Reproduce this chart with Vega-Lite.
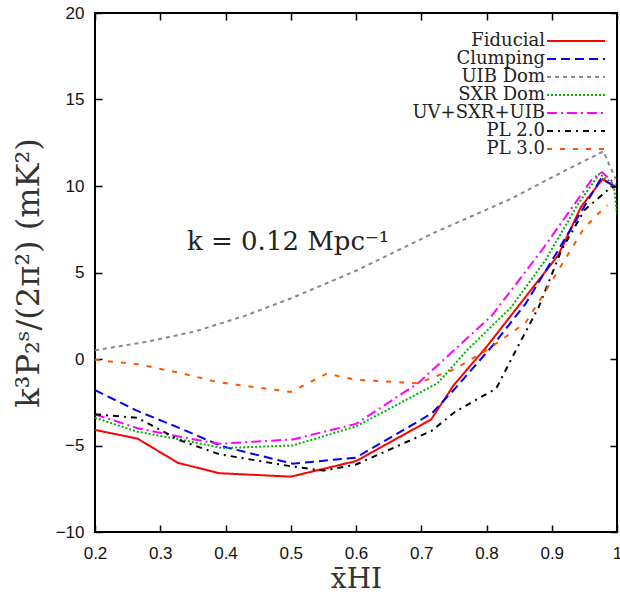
{
  "$schema": "https://vega.github.io/schema/vega-lite/v6.json",
  "autosize": {"type": "none"},
  "padding": {"left": 95, "top": 13, "right": 3, "bottom": 67},
  "width": 522,
  "height": 519,
  "background": "white",
  "config": {
    "view": {"stroke": "black", "strokeWidth": 2},
    "axis": {"domain": false, "grid": false, "tickColor": "black", "tickWidth": 1.5, "tickSize": -7, "labelFont": "Liberation Sans", "labelFontSize": 17, "labelColor": "#111", "titleColor": "#333", "titleFont": "DejaVu Serif", "titleFontWeight": "normal"}
  },
  "datasets": {
    "curves": [
      {"model": "Fiducial", "x": 0.2, "y": -4.1},
      {"model": "Fiducial", "x": 0.265, "y": -4.6},
      {"model": "Fiducial", "x": 0.327, "y": -6.0},
      {"model": "Fiducial", "x": 0.39, "y": -6.6},
      {"model": "Fiducial", "x": 0.5, "y": -6.8},
      {"model": "Fiducial", "x": 0.6, "y": -5.9},
      {"model": "Fiducial", "x": 0.715, "y": -3.5},
      {"model": "Fiducial", "x": 0.75, "y": -1.5},
      {"model": "Fiducial", "x": 0.8, "y": 0.7},
      {"model": "Fiducial", "x": 0.86, "y": 3.6},
      {"model": "Fiducial", "x": 0.91, "y": 6.0},
      {"model": "Fiducial", "x": 0.945, "y": 8.8},
      {"model": "Fiducial", "x": 0.978, "y": 10.4},
      {"model": "Fiducial", "x": 0.998, "y": 9.9},
      {"model": "Clumping", "x": 0.2, "y": -1.8},
      {"model": "Clumping", "x": 0.265, "y": -3.0},
      {"model": "Clumping", "x": 0.33, "y": -4.0},
      {"model": "Clumping", "x": 0.395, "y": -5.05},
      {"model": "Clumping", "x": 0.503, "y": -6.05},
      {"model": "Clumping", "x": 0.6, "y": -5.7},
      {"model": "Clumping", "x": 0.716, "y": -3.15},
      {"model": "Clumping", "x": 0.752, "y": -1.7},
      {"model": "Clumping", "x": 0.81, "y": 0.8},
      {"model": "Clumping", "x": 0.86, "y": 3.2},
      {"model": "Clumping", "x": 0.91, "y": 6.3},
      {"model": "Clumping", "x": 0.975, "y": 10.4},
      {"model": "Clumping", "x": 0.998, "y": 10.0},
      {"model": "UIB Dom", "x": 0.2, "y": 0.5},
      {"model": "UIB Dom", "x": 0.28, "y": 1.0},
      {"model": "UIB Dom", "x": 0.354, "y": 1.6},
      {"model": "UIB Dom", "x": 0.43, "y": 2.5},
      {"model": "UIB Dom", "x": 0.5, "y": 3.5},
      {"model": "UIB Dom", "x": 0.6, "y": 5.1},
      {"model": "UIB Dom", "x": 0.66, "y": 6.2},
      {"model": "UIB Dom", "x": 0.72, "y": 7.3},
      {"model": "UIB Dom", "x": 0.78, "y": 8.3},
      {"model": "UIB Dom", "x": 0.84, "y": 9.3},
      {"model": "UIB Dom", "x": 0.9, "y": 10.5},
      {"model": "UIB Dom", "x": 0.979, "y": 12.0},
      {"model": "UIB Dom", "x": 0.998, "y": 10.4},
      {"model": "SXR Dom", "x": 0.2, "y": -3.4},
      {"model": "SXR Dom", "x": 0.265, "y": -4.2},
      {"model": "SXR Dom", "x": 0.33, "y": -4.65},
      {"model": "SXR Dom", "x": 0.395, "y": -5.15},
      {"model": "SXR Dom", "x": 0.503, "y": -5.0},
      {"model": "SXR Dom", "x": 0.6, "y": -3.9},
      {"model": "SXR Dom", "x": 0.725, "y": -1.4},
      {"model": "SXR Dom", "x": 0.77, "y": 0.5},
      {"model": "SXR Dom", "x": 0.838, "y": 3.0},
      {"model": "SXR Dom", "x": 0.89, "y": 5.7},
      {"model": "SXR Dom", "x": 0.941, "y": 9.0},
      {"model": "SXR Dom", "x": 0.973, "y": 10.7},
      {"model": "SXR Dom", "x": 0.995, "y": 10.1},
      {"model": "SXR Dom", "x": 1.0, "y": 8.4},
      {"model": "UV+SXR+UIB", "x": 0.2, "y": -3.2},
      {"model": "UV+SXR+UIB", "x": 0.265, "y": -4.0},
      {"model": "UV+SXR+UIB", "x": 0.33, "y": -4.5},
      {"model": "UV+SXR+UIB", "x": 0.39, "y": -4.9},
      {"model": "UV+SXR+UIB", "x": 0.503, "y": -4.65},
      {"model": "UV+SXR+UIB", "x": 0.6, "y": -3.75},
      {"model": "UV+SXR+UIB", "x": 0.695, "y": -1.4},
      {"model": "UV+SXR+UIB", "x": 0.808, "y": 2.5},
      {"model": "UV+SXR+UIB", "x": 0.885, "y": 6.3},
      {"model": "UV+SXR+UIB", "x": 0.962, "y": 10.4},
      {"model": "UV+SXR+UIB", "x": 0.977, "y": 10.8},
      {"model": "UV+SXR+UIB", "x": 0.998, "y": 10.1},
      {"model": "PL 2.0", "x": 0.2, "y": -3.2},
      {"model": "PL 2.0", "x": 0.265, "y": -3.4},
      {"model": "PL 2.0", "x": 0.33, "y": -4.7},
      {"model": "PL 2.0", "x": 0.39, "y": -5.5},
      {"model": "PL 2.0", "x": 0.5, "y": -6.2},
      {"model": "PL 2.0", "x": 0.55, "y": -6.45},
      {"model": "PL 2.0", "x": 0.6, "y": -6.1},
      {"model": "PL 2.0", "x": 0.716, "y": -4.15},
      {"model": "PL 2.0", "x": 0.752, "y": -3.05},
      {"model": "PL 2.0", "x": 0.815, "y": -1.7},
      {"model": "PL 2.0", "x": 0.845, "y": 0.5},
      {"model": "PL 2.0", "x": 0.88, "y": 3.0},
      {"model": "PL 2.0", "x": 0.915, "y": 6.3},
      {"model": "PL 2.0", "x": 0.95, "y": 8.6},
      {"model": "PL 2.0", "x": 0.987, "y": 9.8},
      {"model": "PL 2.0", "x": 0.998, "y": 10.0},
      {"model": "PL 3.0", "x": 0.2, "y": -0.05},
      {"model": "PL 3.0", "x": 0.265, "y": -0.3},
      {"model": "PL 3.0", "x": 0.33, "y": -0.8},
      {"model": "PL 3.0", "x": 0.39, "y": -1.35},
      {"model": "PL 3.0", "x": 0.5, "y": -1.9},
      {"model": "PL 3.0", "x": 0.555, "y": -0.85},
      {"model": "PL 3.0", "x": 0.6, "y": -1.2},
      {"model": "PL 3.0", "x": 0.695, "y": -1.4},
      {"model": "PL 3.0", "x": 0.75, "y": -0.6},
      {"model": "PL 3.0", "x": 0.8, "y": 0.5},
      {"model": "PL 3.0", "x": 0.86, "y": 2.1},
      {"model": "PL 3.0", "x": 0.9, "y": 4.5},
      {"model": "PL 3.0", "x": 0.95, "y": 7.6},
      {"model": "PL 3.0", "x": 0.985, "y": 8.9}
    ]
  },
  "layer": [
    {
      "data": {"name": "curves"},
      "mark": {"type": "line", "clip": true},
      "encoding": {
        "x": {"field": "x", "type": "quantitative",
          "scale": {"domain": [0.2, 1.0], "nice": false, "zero": false},
          "axis": {"values": [0.2, 0.3, 0.4, 0.5, 0.6, 0.7, 0.8, 0.9, 1.0], "format": "~g", "labelPadding": 20, "title": "x̄HI", "titleFontSize": 28, "titlePadding": 4, "labelFlush": false}},
        "y": {"field": "y", "type": "quantitative",
          "scale": {"domain": [-10, 20], "nice": false, "zero": false},
          "axis": {"values": [-10, -5, 0, 5, 10, 15, 20], "labelPadding": 18, "title": "k³P₂ˢ/(2π²) (mK²)", "titleFontSize": 32, "titlePadding": 10}},
        "color": {"field": "model", "type": "nominal",
          "scale": {"domain": ["Fiducial", "Clumping", "UIB Dom", "SXR Dom", "UV+SXR+UIB", "PL 2.0", "PL 3.0"],
            "range": ["#ff0000", "#0000ff", "#888888", "#00b000", "#ff00ff", "#000000", "#ff5500"]},
          "legend": {"orient": "none", "legendX": 472, "legendY": 19, "title": null, "symbolType": "M-5.8,0H5.8", "symbolSize": 100, "symbolStrokeWidth": 2, "labelFont": "DejaVu Serif", "labelFontSize": 18, "labelColor": "#222", "labelAlign": "right", "labelOffset": -40, "rowPadding": 0, "labelLimit": 300}},
        "strokeDash": {"field": "model", "type": "nominal",
          "scale": {"domain": ["Fiducial", "Clumping", "UIB Dom", "SXR Dom", "UV+SXR+UIB", "PL 2.0", "PL 3.0"],
            "range": [[1, 0], [9, 5], [4, 4], [2, 2], [10, 4, 2, 4], [6, 5, 2, 5], [5, 8]]},
          "legend": {"orient": "none", "legendX": 472, "legendY": 19, "title": null, "symbolType": "M-5.8,0H5.8", "symbolSize": 100, "symbolStrokeWidth": 2, "labelFont": "DejaVu Serif", "labelFontSize": 18, "labelColor": "#222", "labelAlign": "right", "labelOffset": -40, "rowPadding": 0, "labelLimit": 300}},
        "strokeWidth": {"field": "model", "type": "nominal",
          "scale": {"domain": ["Fiducial", "Clumping", "UIB Dom", "SXR Dom", "UV+SXR+UIB", "PL 2.0", "PL 3.0"],
            "range": [2, 2, 2, 3.5, 2, 2, 2]},
          "legend": null}
      }
    },
    {
      "data": {"values": [{"label": "k = 0.12 Mpc⁻¹"}]},
      "mark": {"type": "text", "font": "DejaVu Serif", "fontSize": 26, "align": "left", "baseline": "alphabetic", "color": "#222"},
      "encoding": {
        "x": {"datum": 0.341, "type": "quantitative", "axis": {"orient": "top", "values": [0.2, 0.3, 0.4, 0.5, 0.6, 0.7, 0.8, 0.9, 1.0], "labels": false, "title": null}},
        "y": {"datum": 6.3, "type": "quantitative", "axis": {"orient": "right", "values": [-10, -5, 0, 5, 10, 15, 20], "labels": false, "title": null}},
        "text": {"field": "label", "type": "nominal"}
      }
    }
  ],
  "resolve": {"axis": {"x": "independent", "y": "independent"}}
}
